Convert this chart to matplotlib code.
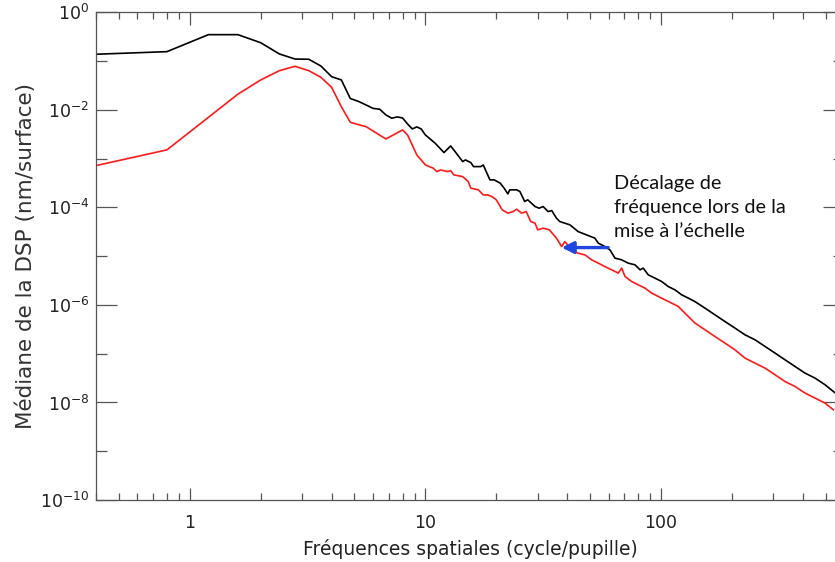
import matplotlib
matplotlib.use("Agg")
import matplotlib.pyplot as plt
from matplotlib.ticker import FixedLocator, FuncFormatter, NullFormatter, LogFormatterSciNotation

plt.rcParams["font.family"] = ["DejaVu Sans"]
plt.rcParams["mathtext.fontset"] = "dejavusans"

# ---- data ----
freq_black = [0.4, 0.8, 1.2, 1.6, 2.0, 2.4, 2.8, 3.2, 3.6, 4.0, 4.4, 4.8, 5.2, 5.6, 6.0, 6.4,
              6.8, 7.2, 7.6, 8.0, 8.4, 8.8, 9.2, 9.6, 10.0, 11.0, 12.0, 12.8, 13.2, 14.4, 14.8,
              15.6, 16.0, 17.2, 17.6, 18.8, 19.6, 20.8, 21.6, 22.4, 22.8, 24.4, 25.2, 26.4,
              27.2, 29.2, 30.4, 31.6, 33.2, 34.4, 36.0, 37.2, 41.1, 44.5, 48.3, 52.4, 54.2,
              57.8, 60.7, 63.8, 68.1, 72.6, 77.6, 81.5, 84.1, 88.3, 94.3, 100.7, 107.4,
              114.6, 122.4, 130.6, 139.4, 153.8, 169.5, 186.9, 206.1, 227.3, 250.6, 276.4,
              304.8, 336.1, 370.6, 408.6, 450.6, 496.9, 539.1, 550.0]
dsp_black = [1.38e-1, 1.56e-1, 3.48e-1, 3.48e-1, 2.38e-1, 1.40e-1, 1.10e-1, 1.09e-1, 7.94e-2,
             4.79e-2, 4.10e-2, 1.71e-2, 1.49e-2, 1.26e-2, 1.07e-2, 1.03e-2, 7.87e-3, 6.73e-3,
             7.16e-3, 6.82e-3, 5.14e-3, 4.06e-3, 4.47e-3, 4.06e-3, 3.06e-3, 2.07e-3, 1.33e-3,
             1.82e-3, 1.51e-3, 8.69e-4, 9.40e-4, 8.28e-4, 6.86e-4, 6.86e-4, 7.43e-4, 3.66e-4,
             3.66e-4, 3.13e-4, 2.47e-4, 1.89e-4, 2.29e-4, 2.29e-4, 2.11e-4, 1.32e-4, 1.43e-4,
             1.04e-4, 9.64e-5, 1.04e-4, 8.20e-5, 8.59e-5, 6.01e-5, 5.12e-5, 4.38e-5, 3.19e-5,
             2.73e-5, 2.34e-5, 1.85e-5, 1.57e-5, 1.35e-5, 9.10e-6, 8.40e-6, 7.19e-6, 6.64e-6,
             5.24e-6, 5.68e-6, 4.14e-6, 3.54e-6, 3.02e-6, 2.38e-6, 2.04e-6, 1.61e-6, 1.38e-6,
             1.17e-6, 8.59e-7, 6.26e-7, 4.57e-7, 3.35e-7, 2.44e-7, 1.93e-7, 1.41e-7, 1.03e-7,
             7.50e-8, 5.47e-8, 4.00e-8, 3.16e-8, 2.31e-8, 1.68e-8, 1.55e-8]

freq_red = [0.4, 0.8, 1.6, 2.0, 2.4, 2.8, 3.2, 3.6, 4.0, 4.4, 4.8, 5.2, 5.6, 6.8, 8.0, 8.4,
            9.2, 10.0, 10.8, 11.2, 11.6, 12.4, 12.8, 13.2, 14.4, 15.2, 15.6, 16.8, 17.6,
            18.4, 19.2, 20.0, 21.2, 22.4, 23.6, 24.4, 25.6, 26.8, 28.0, 29.2, 30.0, 31.6,
            33.6, 36.0, 37.9, 39.1, 41.8, 44.5, 47.6, 50.8, 54.2, 57.8, 61.8, 65.9, 68.1,
            70.4, 75.1, 80.1, 85.5, 91.3, 97.4, 104.0, 111.0, 118.5, 126.4, 135.0, 139.4,
            153.8, 169.5, 186.9, 206.1, 227.3, 250.6, 276.4, 304.8, 336.1, 370.6, 408.6,
            450.6, 496.9, 539.1]
dsp_red = [7.19e-4, 1.51e-3, 2.09e-2, 4.10e-2, 6.35e-2, 7.82e-2, 6.35e-2, 4.66e-2, 2.90e-2,
           1.16e-2, 5.57e-3, 4.97e-3, 4.53e-3, 2.53e-3, 3.87e-3, 3.06e-3, 1.19e-3, 7.43e-4,
           6.36e-4, 5.42e-4, 5.86e-4, 5.42e-4, 5.68e-4, 4.64e-4, 4.28e-4, 3.38e-4, 2.47e-4,
           2.29e-4, 1.80e-4, 1.80e-4, 1.66e-4, 1.43e-4, 8.89e-5, 7.61e-5, 8.20e-5, 9.18e-5,
           7.61e-5, 8.20e-5, 5.12e-5, 4.74e-5, 3.46e-5, 3.75e-5, 3.46e-5, 2.34e-5, 1.57e-5,
           1.99e-5, 1.35e-5, 1.15e-5, 1.06e-5, 8.40e-6, 7.19e-6, 6.12e-6, 5.24e-6, 4.49e-6,
           5.68e-6, 3.82e-6, 3.02e-6, 2.58e-6, 2.21e-6, 1.75e-6, 1.49e-6, 1.27e-6, 1.09e-6,
           9.27e-7, 6.79e-7, 4.95e-7, 4.24e-7, 3.09e-7, 2.25e-7, 1.65e-7, 1.20e-7, 8.13e-8,
           6.41e-8, 5.07e-8, 3.70e-8, 2.69e-8, 2.13e-8, 1.56e-8, 1.23e-8, 9.72e-9, 7.08e-9]

x_ticks = [1, 10, 100]
y_major = [1e-10, 1e-8, 1e-6, 1e-4, 1e-2, 1e0]
y_minor = [1e-9, 1e-7, 1e-5, 1e-3, 1e-1]

xlabel = "Fréquences spatiales (cycle/pupille)"
ylabel = "Médiane de la DSP (nm/surface)"
note = "Décalage de\nfréquence lors de la\nmise à l\u2019échelle"
arrow_tail = (59.7, 1.50e-5)
arrow_head = (37.9, 1.50e-5)

# ---- figure ----
fig = plt.figure(figsize=(8.35, 5.62), dpi=100)
ax = fig.add_axes([96 / 835, 62 / 562, (844.3 - 96) / 835, (500 - 12.3) / 562])

ax.plot(freq_black, dsp_black, color="black", lw=1.2)
ax.plot(freq_red, dsp_red, color="#ff1a1a", lw=1.2)

ax.set_xscale("log")
ax.set_yscale("log")
ax.set_xlim(0.4, 600)
ax.set_ylim(1e-10, 1e0)

ax.xaxis.set_major_locator(FixedLocator(x_ticks))
ax.xaxis.set_major_formatter(FuncFormatter(lambda v, p: "%g" % v))
ax.xaxis.set_minor_formatter(NullFormatter())
ax.yaxis.set_major_locator(FixedLocator(y_major))
ax.yaxis.set_major_formatter(LogFormatterSciNotation())
ax.yaxis.set_minor_locator(FixedLocator(y_minor))
ax.yaxis.set_minor_formatter(NullFormatter())

spine_col = "#555555"
for s in ax.spines.values():
    s.set_color(spine_col)
    s.set_linewidth(0.9)
txt_col = "#222222"
ax.tick_params(axis="x", which="major", direction="in", length=9, width=0.9,
               top=True, color=spine_col, labelsize=12.5, labelcolor=txt_col, pad=10)
ax.tick_params(axis="x", which="minor", direction="in", length=5, width=0.9,
               top=True, color=spine_col)
ax.tick_params(axis="y", which="major", direction="in", length=15, width=0.9,
               right=True, color=spine_col, labelsize=12.5, labelcolor=txt_col, pad=5)
ax.tick_params(axis="y", which="minor", direction="in", length=8, width=0.9,
               right=True, color=spine_col)

ax.set_xlabel(xlabel, fontsize=13.5, color=txt_col, labelpad=5)
ax.set_ylabel(ylabel, fontsize=15.5, color="#333333", labelpad=3)

ax.annotate("", xy=arrow_head, xytext=arrow_tail,
            arrowprops=dict(arrowstyle="-|>,head_length=0.7,head_width=0.35",
                            color="#1f47e0", lw=2.4, shrinkA=0, shrinkB=0))

fig.text(614 / 835, 1 - 175 / 562, note, family="Lato", fontsize=14.3, color="#111111",
         va="top", ha="left", linespacing=1.5)

fig.savefig("out.png", dpi=100)
